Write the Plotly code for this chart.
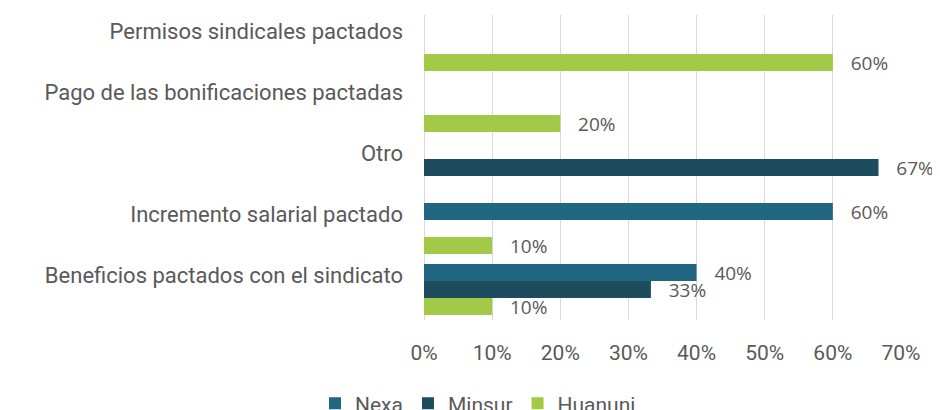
import plotly.graph_objects as go

categories = [
    "Beneficios pactados con el sindicato",
    "Incremento salarial pactado",
    "Otro",
    "Pago de las bonificaciones pactadas",
    "Permisos sindicales pactados",
]
nexa = [0.40, 0.60, None, None, None]
minsur = [0.333, None, 0.667, None, None]
huanuni = [0.10, 0.10, None, 0.20, 0.60]
x_ticks = [0, 0.1, 0.2, 0.3, 0.4, 0.5, 0.6, 0.7]
x_tick_labels = ["0%", "10%", "20%", "30%", "40%", "50%", "60%", "70%"]

GREY = "#595959"
series = [
    ("Huanuni", huanuni, "#A2C947"),
    ("Minsur", minsur, "#1E4C5F"),
    ("Nexa", nexa, "#226781"),
]

fig = go.Figure()
for name, vals, color in series:
    fig.add_trace(go.Bar(
        name=name, y=categories, x=vals, orientation="h",
        marker=dict(color=color, line=dict(width=0)),
        texttemplate="\u00a0\u00a0\u00a0%{x:.0%}",
        textposition="outside",
        constraintext="none",
        cliponaxis=False,
        textfont=dict(family="Open Sans", size=19, color=GREY),
    ))

fig.update_layout(
    width=940, height=410,
    margin=dict(l=416, r=47, t=7, b=98),
    barmode="group", bargap=0.164, bargroupgap=0,
    plot_bgcolor="white", paper_bgcolor="white",
    font=dict(family="Roboto", size=21, color=GREY),
    legend=dict(orientation="h", traceorder="reversed",
                xref="container", yref="container",
                x=0.5, xanchor="center", y=0.035, yanchor="middle",
                font=dict(family="Roboto", size=21, color=GREY),
                itemwidth=30),
    showlegend=True,
)
fig.update_xaxes(range=[0, 0.7], tickvals=x_ticks, ticktext=x_tick_labels,
                 showgrid=True, gridcolor="#D9D9D9", gridwidth=1,
                 zeroline=True, zerolinecolor="#D9D9D9", zerolinewidth=1,
                 ticks="", ticklabelstandoff=18,
                 tickfont=dict(family="Roboto", size=21, color=GREY))
fig.update_yaxes(type="category", categoryorder="array", categoryarray=categories,
                 showgrid=False, ticks="", ticklabelstandoff=20, ticklabelshift=-14,
                 tickfont=dict(family="Roboto", size=22, color=GREY))

fig.write_html("out.html")
